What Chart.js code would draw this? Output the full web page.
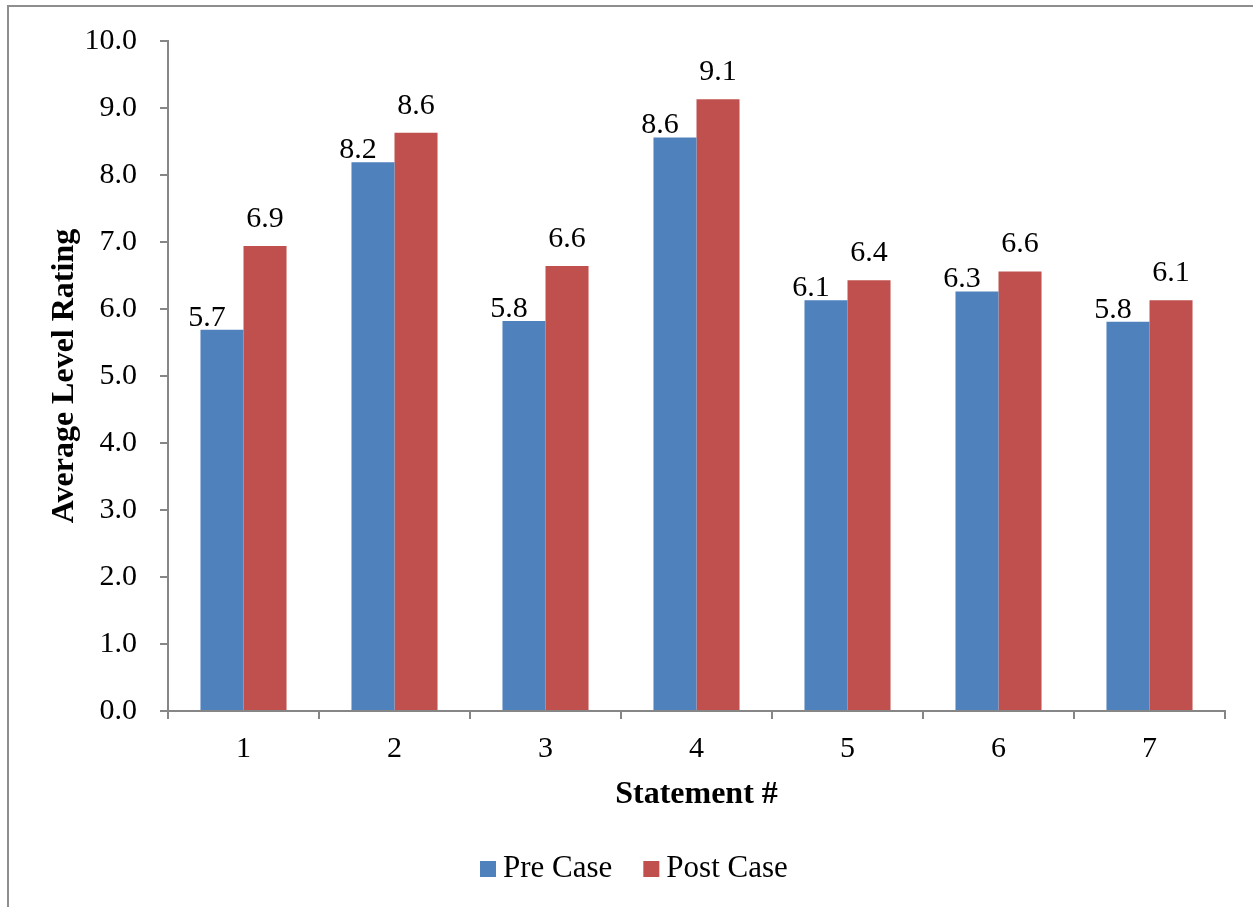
<!DOCTYPE html>
<html>
<head>
<meta charset="utf-8">
<script src="https://cdn.jsdelivr.net/npm/chart.js@4/dist/chart.umd.min.js"></script>
<style>
  html, body { margin: 0; padding: 0; background: #fff; overflow: hidden; }
  #wrap { position: relative; width: 1253px; height: 907px; }
  #frame { position: absolute; left: 7px; top: 5px; width: 1400px; height: 1000px;
           border-left: 2px solid #8e8e8e; border-top: 2px solid #8e8e8e; box-sizing: border-box; }
  canvas { position: absolute; left: 0; top: 0; }
</style>
</head>
<body>
<div id="wrap">
  <div id="frame"></div>
  <canvas id="c" width="1253" height="907"></canvas>
</div>
<script>
const categories = ['1', '2', '3', '4', '5', '6', '7'];
const preCase  = [5.69, 8.19, 5.82, 8.56, 6.13, 6.26, 5.81];
const postCase = [6.94, 8.63, 6.64, 9.13, 6.43, 6.56, 6.13];
const seriesNames = ['Pre Case', 'Post Case'];
const yTicks = [0, 1, 2, 3, 4, 5, 6, 7, 8, 9, 10];

const SERIF = '"Liberation Serif", "Times New Roman", serif';
const BLUE = '#4F81BD';
const RED = '#C0504D';
const AXIS = '#868686';

const labelPlugin = {
  id: 'barLabels',
  afterDatasetsDraw(chart) {
    const ctx = chart.ctx;
    ctx.save();
    ctx.font = '30px ' + SERIF;
    ctx.fillStyle = '#000';
    ctx.textAlign = 'center';
    ctx.textBaseline = 'middle';
    chart.data.datasets.forEach((ds, di) => {
      const meta = chart.getDatasetMeta(di);
      meta.data.forEach((bar, i) => {
        const txt = ds.data[i].toFixed(1);
        if (di === 0) {
          ctx.fillText(txt, bar.x - 15, bar.y - 12);
        } else {
          ctx.fillText(txt, bar.x, bar.y - 27);
        }
      });
    });
    ctx.restore();
  }
};

const legendPlugin = {
  id: 'customLegend',
  afterDraw(chart) {
    const ctx = chart.ctx;
    ctx.save();
    ctx.font = '31px ' + SERIF;
    ctx.textBaseline = 'middle';
    ctx.textAlign = 'left';
    const cy = 869;
    const box = 16;
    const gap = 7;
    const between = 31;
    let x = 480;
    chart.data.datasets.forEach((ds, i) => {
      ctx.fillStyle = ds.backgroundColor;
      ctx.fillRect(x, cy - box / 2, box, box);
      x += box + gap;
      ctx.fillStyle = '#000';
      ctx.fillText(seriesNames[i], x, cy);
      x += ctx.measureText(seriesNames[i]).width + between;
    });
    ctx.restore();
  }
};

new Chart(document.getElementById('c'), {
  type: 'bar',
  data: {
    labels: categories,
    datasets: [
      { label: seriesNames[0], data: preCase, backgroundColor: BLUE,
        categoryPercentage: 0.57, barPercentage: 1.0 },
      { label: seriesNames[1], data: postCase, backgroundColor: RED,
        categoryPercentage: 0.57, barPercentage: 1.0 }
    ]
  },
  options: {
    responsive: false,
    animation: false,
    devicePixelRatio: 1,
    layout: { padding: { left: 0, top: 36, right: 28, bottom: 0 } },
    plugins: {
      legend: { display: false },
      tooltip: { enabled: false },
      title: { display: false }
    },
    scales: {
      x: {
        offset: true,
        afterFit(scale) { scale.height = 196; },
        grid: { offset: true, drawOnChartArea: false, drawTicks: true, tickLength: 8,
                color: AXIS, lineWidth: 2 },
        border: { color: AXIS, width: 2 },
        ticks: { color: '#000', font: { family: SERIF, size: 30 }, padding: 12, maxRotation: 0 },
        title: { display: true, text: 'Statement #', color: '#000',
                 font: { family: SERIF, size: 32, weight: 'bold' },
                 padding: { top: 0, bottom: 93 } }
      },
      y: {
        min: 0, max: 10,
        afterFit(scale) { scale.width = 168; },
        afterBuildTicks(scale) { scale.ticks = yTicks.map(v => ({ value: v })); },
        grid: { drawOnChartArea: false, drawTicks: true, tickLength: 8, color: AXIS, lineWidth: 2 },
        border: { color: AXIS, width: 2 },
        ticks: { color: '#000', font: { family: SERIF, size: 30 }, padding: 23,
                 callback: v => Number(v).toFixed(1) },
        title: { display: true, text: 'Average Level Rating', color: '#000',
                 font: { family: SERIF, size: 32, weight: 'bold' },
                 padding: { top: 46, bottom: 0 } }
      }
    }
  },
  plugins: [labelPlugin, legendPlugin]
});
</script>
</body>
</html>
